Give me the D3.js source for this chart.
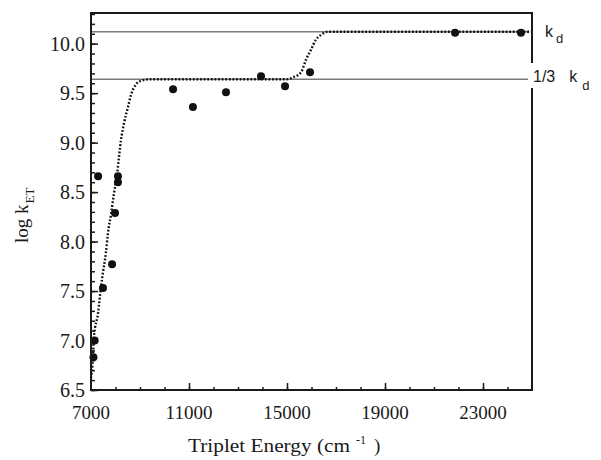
<!DOCTYPE html>
<html>
<head>
<meta charset="utf-8">
<script src="https://cdn.jsdelivr.net/npm/d3@7"></script>
<style>
  body { margin: 0; background: #fff; }
  svg { display: block; }
</style>
</head>
<body>
<div id="chart"></div>
<script>
// Fitted curve
const curveX = [7000, 7080, 7120, 7290, 7410, 7490, 7610, 7690, 7820, 7940, 8060, 8140, 8220, 8350, 8510, 8630, 8840, 9040, 9370, 10500, 12500, 15000, 15250, 15570, 15780, 15980, 16180, 16390, 16670, 17200, 20000, 25000];
const curveY = [6.62, 6.83, 7.04, 7.28, 7.55, 7.69, 7.89, 8.08, 8.28, 8.49, 8.67, 8.85, 9.02, 9.20, 9.36, 9.48, 9.59, 9.625, 9.64, 9.64, 9.64, 9.64, 9.66, 9.71, 9.84, 9.94, 10.04, 10.09, 10.12, 10.12, 10.12, 10.12];

// Measured points
const pointX = [7100, 7150, 7290, 7490, 7860, 7980, 8100, 8100, 10350, 11160, 12510, 13940, 14920, 15940, 21860, 24550];
const pointY = [6.83, 7.00, 8.66, 7.53, 7.77, 8.29, 8.66, 8.60, 9.54, 9.36, 9.51, 9.67, 9.57, 9.71, 10.11, 10.11];

// Reference levels
const kdLevel = 10.12;
const kdThirdLevel = 9.64;

const xMajorTicks = [7000, 11000, 15000, 19000, 23000];
const yMajorTicks = [6.5, 7.0, 7.5, 8.0, 8.5, 9.0, 9.5, 10.0];

const width = 601, height = 460;
const margin = { top: 13, right: 69, bottom: 70, left: 91 };

const svg = d3.select("#chart").append("svg")
  .attr("width", width)
  .attr("height", height);

const x = d3.scaleLinear().domain([7000, 25000]).range([margin.left, width - margin.right]);
const y = d3.scaleLinear().domain([6.5, 10.31]).range([height - margin.bottom, margin.top]);

const serif = "'Liberation Serif', 'Times New Roman', serif";
const sans = "'Liberation Sans', Arial, sans-serif";

// reference lines
[kdLevel, kdThirdLevel].forEach(v => {
  svg.append("line")
    .attr("x1", x(7000)).attr("x2", x(25000) - 3)
    .attr("y1", y(v)).attr("y2", y(v))
    .attr("stroke", "#7a7a7a")
    .attr("stroke-width", 1.4);
});

// axes with inward ticks
const yMinor = d3.range(65, 104).map(d => d / 10);
const xMinor = d3.range(8000, 25000, 1000);

svg.append("g")
  .attr("transform", `translate(${margin.left},0)`)
  .call(d3.axisRight(y).tickValues(yMinor).tickSize(4).tickFormat(""))
  .call(g => g.select(".domain").remove())
  .call(g => g.selectAll("line").attr("stroke", "#1a1a1a").attr("stroke-width", 1.5));

svg.append("g")
  .attr("transform", `translate(${margin.left},0)`)
  .call(d3.axisRight(y).tickValues(yMajorTicks).tickSize(7).tickFormat(""))
  .call(g => g.select(".domain").remove())
  .call(g => g.selectAll("line").attr("stroke", "#1a1a1a").attr("stroke-width", 1.5));

svg.append("g")
  .attr("transform", `translate(0,${height - margin.bottom})`)
  .call(d3.axisTop(x).tickValues(xMinor).tickSize(3).tickFormat(""))
  .call(g => g.select(".domain").remove())
  .call(g => g.selectAll("line").attr("stroke", "#1a1a1a").attr("stroke-width", 1.5));

svg.append("g")
  .attr("transform", `translate(0,${height - margin.bottom})`)
  .call(d3.axisTop(x).tickValues(xMajorTicks.slice(1)).tickSize(7).tickFormat(""))
  .call(g => g.select(".domain").remove())
  .call(g => g.selectAll("line").attr("stroke", "#1a1a1a").attr("stroke-width", 1.5));

// tick labels
svg.append("g").selectAll("text")
  .data(yMajorTicks)
  .join("text")
  .attr("x", margin.left - 6)
  .attr("y", d => y(d))
  .attr("dy", "0.35em")
  .attr("text-anchor", "end")
  .attr("font-family", serif)
  .attr("font-size", 20)
  .attr("fill", "#1a1a1a")
  .text(d => d.toFixed(1));

svg.append("g").selectAll("text")
  .data(xMajorTicks)
  .join("text")
  .attr("x", d => x(d))
  .attr("y", 419)
  .attr("text-anchor", "middle")
  .attr("font-family", serif)
  .attr("font-size", 19)
  .attr("fill", "#1a1a1a")
  .text(d => d);

// fitted curve (dotted)
const line = d3.line()
  .x((d, i) => x(curveX[i]))
  .y(d => y(d))
  .curve(d3.curveMonotoneX);

svg.append("path")
  .datum(curveY)
  .attr("d", line)
  .attr("fill", "none")
  .attr("stroke", "#111")
  .attr("stroke-width", 2.4)
  .attr("stroke-dasharray", "1.8 1.8");

// data points
svg.append("g").selectAll("circle")
  .data(pointY)
  .join("circle")
  .attr("cx", (d, i) => x(pointX[i]))
  .attr("cy", d => y(d))
  .attr("r", 4)
  .attr("fill", "#111");

// frame
svg.append("rect")
  .attr("x", margin.left).attr("y", margin.top)
  .attr("width", width - margin.left - margin.right)
  .attr("height", height - margin.top - margin.bottom)
  .attr("fill", "none")
  .attr("stroke", "#1a1a1a")
  .attr("stroke-width", 2);

// right-hand labels
svg.append("rect")
  .attr("x", 528).attr("y", 63)
  .attr("width", 30).attr("height", 25)
  .attr("fill", "#fff");

const kd = svg.append("text")
  .attr("x", 545).attr("y", y(kdLevel) + 5)
  .attr("font-family", sans).attr("font-size", 16).attr("fill", "#1a1a1a");
kd.append("tspan").text("k");
kd.append("tspan").attr("dx", 3).attr("dy", 6).attr("font-size", 13).text("d");

const kd3 = svg.append("text")
  .attr("x", 533).attr("y", y(kdThirdLevel) + 3)
  .attr("font-family", sans).attr("font-size", 16).attr("fill", "#1a1a1a");
kd3.append("tspan").text("1/3");
kd3.append("tspan").attr("dx", 14).text("k");
kd3.append("tspan").attr("dx", 5).attr("dy", 8).attr("font-size", 13).text("d");

// axis titles
svg.append("text")
  .attr("x", 188).attr("y", 452)
  .attr("font-family", serif).attr("font-size", 19).attr("fill", "#1a1a1a")
  .attr("textLength", 162).attr("lengthAdjust", "spacingAndGlyphs")
  .text("Triplet Energy (cm");
svg.append("text")
  .attr("x", 356).attr("y", 444)
  .attr("font-family", serif).attr("font-size", 12).attr("fill", "#1a1a1a")
  .text("-1");
svg.append("text")
  .attr("x", 374).attr("y", 452)
  .attr("font-family", serif).attr("font-size", 19).attr("fill", "#1a1a1a")
  .text(")");

const yt = svg.append("text")
  .attr("transform", "translate(28,243) rotate(-90)")
  .attr("font-family", serif).attr("font-size", 19).attr("fill", "#1a1a1a");
yt.append("tspan").text("log k");
yt.append("tspan").attr("dx", 1).attr("dy", 6).attr("font-size", 13).text("ET");
</script>
</body>
</html>
